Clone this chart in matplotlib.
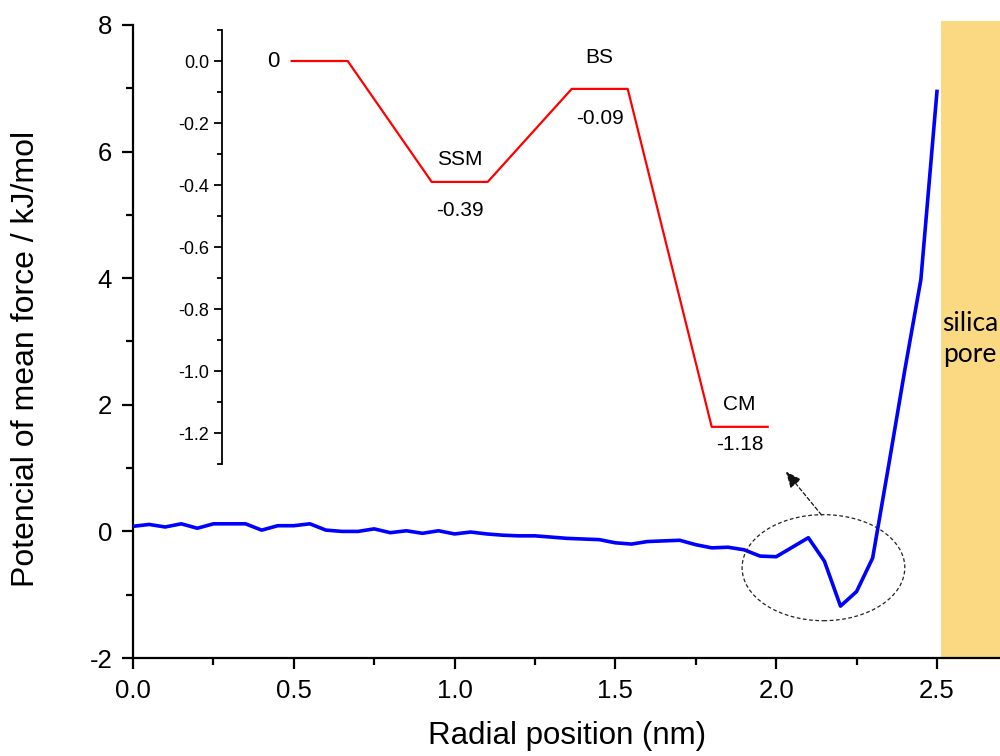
import matplotlib
matplotlib.use("Agg")
import matplotlib.pyplot as plt
from matplotlib.patches import Ellipse, Rectangle
from matplotlib.ticker import MultipleLocator, FormatStrFormatter

plt.rcParams['font.family'] = ['Liberation Sans', 'DejaVu Sans']
plt.rcParams['axes.unicode_minus'] = False

# radial PMF profile (blue curve)
radius = [0.00, 0.05, 0.10, 0.15, 0.20, 0.25, 0.30, 0.35, 0.40, 0.45,
          0.50, 0.55, 0.60, 0.65, 0.70, 0.75, 0.80, 0.85, 0.90, 0.95,
          1.00, 1.05, 1.10, 1.15, 1.20, 1.25, 1.30, 1.35, 1.40, 1.45,
          1.50, 1.55, 1.60, 1.65, 1.70, 1.75, 1.80, 1.85, 1.90, 1.95,
          2.00, 2.05, 2.10, 2.15, 2.20, 2.25, 2.30, 2.35, 2.40, 2.45,
          2.50]
pmf = [0.08, 0.11, 0.07, 0.12, 0.05, 0.12, 0.12, 0.12, 0.02, 0.09,
       0.09, 0.12, 0.02, 0.00, 0.00, 0.04, -0.02, 0.01, -0.03, 0.01,
       -0.04, -0.01, -0.04, -0.06, -0.07, -0.07, -0.09, -0.11, -0.12, -0.13,
       -0.18, -0.20, -0.16, -0.15, -0.14, -0.21, -0.26, -0.25, -0.29, -0.39,
       -0.40, -0.25, -0.10, -0.47, -1.18, -0.95, -0.42, 1.05, 2.55, 3.98,
       6.95]

# inset energy diagram
states = ['0', 'SSM', 'BS', 'CM']
energies = [0.0, -0.39, -0.09, -1.18]
energy_text = ['', '-0.39', '-0.09', '-1.18']
inset_ticks = [0.0, -0.2, -0.4, -0.6, -0.8, -1.0, -1.2]
inset_ticklabels = ['0.0', '-0.2', '-0.4', '-0.6', '-0.8', '-1.0', '-1.2']

# label offsets (pixels) above / below each level
name_dy = [0, 22, 31, 22]
value_dy = [0, -29, -30, -18]

fig = plt.figure(figsize=(10, 7.56), dpi=100)
ax = fig.add_axes([0.133, 0.1296, 0.867, 0.8374])
ax.set_xlim(0, 2.696)
ax.set_ylim(-2, 8)

# silica pore wall
ax.add_patch(Rectangle((2.512, -2), 0.6, 10.06, facecolor='#fbd982',
                       edgecolor='none', clip_on=False, zorder=1))
ax.text(2.516, 3.04, 'silica\npore', family='Lato', fontsize=19,
        ha='left', va='center', multialignment='center', linespacing=1.3,
        zorder=2)

ax.plot(radius, pmf, color='#0000ff', lw=2.6, zorder=3)

# highlight of the minimum region
ax.add_patch(Ellipse((2.147, -0.573), 0.506, 1.675, fill=False,
                     ls=(0, (3, 2)), lw=0.9, edgecolor='#222222', zorder=4))
ax.annotate('', xy=(2.030, 0.947), xytext=(2.141, 0.26),
            arrowprops=dict(arrowstyle='-|>,head_length=0.7,head_width=0.3',
                            mutation_scale=14, lw=0.9, ls=(0, (3, 2)),
                            color='#111111', shrinkA=0, shrinkB=0))

for s in ['top', 'right']:
    ax.spines[s].set_visible(False)
for s in ['left', 'bottom']:
    ax.spines[s].set_linewidth(1.6)

ax.xaxis.set_major_locator(MultipleLocator(0.5))
ax.xaxis.set_minor_locator(MultipleLocator(0.25))
ax.xaxis.set_major_formatter(FormatStrFormatter('%.1f'))
ax.yaxis.set_major_locator(MultipleLocator(2))
ax.yaxis.set_minor_locator(MultipleLocator(1))
ax.tick_params(which='major', direction='out', length=8, width=1.6,
               labelsize=18.5, pad=7)
ax.tick_params(which='minor', direction='out', length=5, width=1.6)

ax.set_xlabel('Radial position (nm)', fontsize=22.5)
ax.set_ylabel('Potencial of mean force / kJ/mol', fontsize=23)
ax.xaxis.set_label_coords(0.5006, -0.1)
ax.yaxis.set_label_coords(-0.106, 0.472)

# inset: energy levels of the adsorption states
ins = fig.add_axes([0.2217, 0.3862, 0.63, 0.5741])
ins.patch.set_alpha(0)
ins.set_xlim(-0.5, 4.0)
ins.set_ylim(-1.3, 0.1)
for s in ['top', 'right', 'bottom']:
    ins.spines[s].set_visible(False)
ins.spines['left'].set_linewidth(1.3)
ins.set_xticks([])

xs, ys = [], []
for i, e in enumerate(energies):
    xs += [i, i + 0.4]
    ys += [e, e]
ins.plot(xs, ys, color='#ff0000', lw=1.6)

ins.set_yticks(inset_ticks, inset_ticklabels)
ins.yaxis.set_minor_locator(MultipleLocator(0.1))
ins.tick_params(which='major', direction='out', length=6, width=1.3,
                labelsize=13, pad=3)
ins.tick_params(which='minor', direction='out', length=3.5, width=1.3)

for i, (name, e, val) in enumerate(zip(states, energies, energy_text)):
    if i == 0:
        ins.annotate(name, xy=(i, e), xytext=(-18, 0),
                     textcoords='offset pixels', ha='center', va='center',
                     fontsize=16)
        continue
    ins.annotate(name, xy=(i + 0.2, e), xytext=(0, name_dy[i]),
                 textcoords='offset pixels', ha='center', va='center',
                 fontsize=15)
    ins.annotate(val, xy=(i + 0.2, e), xytext=(0, value_dy[i]),
                 textcoords='offset pixels', ha='center', va='center',
                 fontsize=15)

fig.savefig('out.png', dpi=100, facecolor='white')
